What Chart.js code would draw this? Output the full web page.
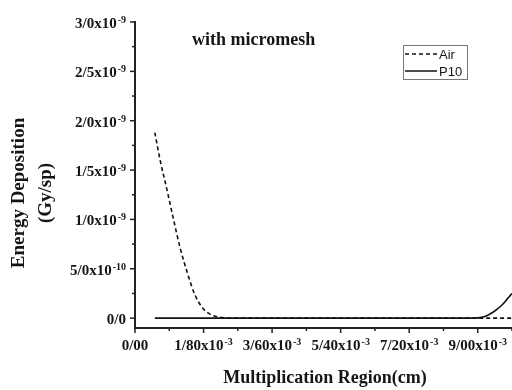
<!DOCTYPE html>
<html>
<head>
<meta charset="UTF-8">
<title>Energy Deposition - micromesh</title>
<script src="https://cdn.jsdelivr.net/npm/chart.js"></script>
<style>
  body { margin: 0; background: #fff; }
  #grafico { display: block; }
</style>
</head>
<body>
<canvas id="grafico" width="512" height="390"></canvas>
<script>
  // x in units of 1e-3 cm, y in units of 1e-9 Gy/sp
  const airX = [0.52, 0.66, 0.84, 1.0, 1.18, 1.39, 1.57, 1.78, 1.97, 2.2, 2.5, 3.5, 5.0, 7.0, 9.0, 10.0];
  const airY = [1.88, 1.60, 1.30, 1.02, 0.72, 0.44, 0.24, 0.10, 0.04, 0.01, 0, 0, 0, 0, 0, 0];
  const p10X = [0.52, 3.0, 6.0, 8.8, 9.13, 9.4, 9.63, 9.79, 9.9, 10.0];
  const p10Y = [0, 0, 0, 0, 0.01, 0.06, 0.13, 0.2, 0.25, 0.3];

  const xTicks = [0, 1.8, 3.6, 5.4, 7.2, 9.0];
  const xTickText = ['0/00', '1/80x10', '3/60x10', '5/40x10', '7/20x10', '9/00x10'];
  const xTickExp = ['', '-3', '-3', '-3', '-3', '-3'];
  const yTicks = [0, 0.5, 1.0, 1.5, 2.0, 2.5, 3.0];
  const yTickText = ['0/0', '5/0x10', '1/0x10', '1/5x10', '2/0x10', '2/5x10', '3/0x10'];
  const yTickExp = ['', '-10', '-9', '-9', '-9', '-9', '-9'];

  const serif = '"Liberation Serif", "Times New Roman", serif';
  const ink = '#151515';

  function textoConExp(ctx, base, exp, x, y, align) {
    ctx.font = 'bold 15px ' + serif;
    const wb = ctx.measureText(base).width;
    ctx.font = 'bold 10px ' + serif;
    const we = exp ? ctx.measureText(exp).width + 1 : 0;
    let x0 = x;
    if (align === 'right') x0 = x - wb - we;
    if (align === 'center') x0 = x - (wb + we) / 2;
    ctx.textAlign = 'left';
    ctx.textBaseline = 'alphabetic';
    ctx.font = 'bold 15px ' + serif;
    ctx.fillText(base, x0, y);
    if (exp) {
      ctx.font = 'bold 10px ' + serif;
      ctx.fillText(exp, x0 + wb + 1, y - 5);
    }
  }

  const ejes = {
    id: 'ejes',
    afterDraw(chart) {
      const ctx = chart.ctx;
      const xs = chart.scales.x, ys = chart.scales.y;
      const left = chart.chartArea.left, bottom = chart.chartArea.bottom;
      ctx.save();
      ctx.strokeStyle = '#222';
      ctx.fillStyle = ink;
      ctx.lineWidth = 1.5;

      // y ticks: major + minor in between
      yTicks.forEach((v, i) => {
        const py = ys.getPixelForValue(v);
        ctx.beginPath(); ctx.moveTo(left - 5, py); ctx.lineTo(left, py); ctx.stroke();
        if (i < yTicks.length - 1) {
          const pm = ys.getPixelForValue((v + yTicks[i + 1]) / 2);
          ctx.beginPath(); ctx.moveTo(left - 3, pm); ctx.lineTo(left, pm); ctx.stroke();
        }
        textoConExp(ctx, yTickText[i], yTickExp[i], left - 9, py + 6, 'right');
      });

      // x ticks
      xTicks.forEach((v, i) => {
        const px = xs.getPixelForValue(v);
        ctx.beginPath(); ctx.moveTo(px, bottom); ctx.lineTo(px, bottom + 5); ctx.stroke();
        const pm = xs.getPixelForValue(v + 0.9);
        if (pm <= chart.chartArea.right) {
          ctx.beginPath(); ctx.moveTo(pm, bottom); ctx.lineTo(pm, bottom + 3); ctx.stroke();
        }
        textoConExp(ctx, xTickText[i], xTickExp[i], px, 350, 'center');
      });

      // axis titles
      ctx.font = 'bold 18px ' + serif;
      ctx.textAlign = 'center';
      ctx.textBaseline = 'alphabetic';
      ctx.fillText('Multiplication Region(cm)', 325, 383);
      ctx.save();
      ctx.translate(24, 193);
      ctx.rotate(-Math.PI / 2);
      ctx.font = 'bold 19px ' + serif;
      ctx.fillText('Energy Deposition', 0, 0);
      ctx.fillText('(Gy/sp)', 0, 27);
      ctx.restore();

      // title inside the plot
      ctx.font = 'bold 18px ' + serif;
      ctx.textAlign = 'left';
      ctx.fillText('with micromesh', 192, 45);

      // legend box
      ctx.strokeStyle = '#777';
      ctx.lineWidth = 1;
      ctx.strokeRect(403.5, 45.5, 64, 34);
      ctx.font = '13px "Liberation Sans", Arial, sans-serif';
      ctx.textBaseline = 'middle';
      chart.data.datasets.forEach((ds, i) => {
        const ly = 54 + i * 17;
        ctx.strokeStyle = '#111';
        ctx.lineWidth = 1.5;
        ctx.setLineDash(ds.borderDash || []);
        ctx.beginPath(); ctx.moveTo(405, ly); ctx.lineTo(437, ly); ctx.stroke();
        ctx.setLineDash([]);
        ctx.fillText(ds.label, 439, ly + 1);
      });
      ctx.restore();
    }
  };

  new Chart(document.getElementById('grafico'), {
    type: 'line',
    data: {
      datasets: [
        {
          label: 'Air',
          data: airX.map((x, i) => ({ x, y: airY[i] })),
          borderColor: '#111',
          borderWidth: 1.6,
          borderDash: [4, 3],
          pointRadius: 0,
          cubicInterpolationMode: 'monotone'
        },
        {
          label: 'P10',
          data: p10X.map((x, i) => ({ x, y: p10Y[i] })),
          borderColor: '#111',
          borderWidth: 1.6,
          pointRadius: 0,
          cubicInterpolationMode: 'monotone'
        }
      ]
    },
    options: {
      responsive: false,
      animation: false,
      layout: { padding: { top: 22, right: 0, left: 0, bottom: 0 } },
      plugins: { legend: { display: false }, tooltip: { enabled: false } },
      scales: {
        x: {
          type: 'linear', min: 0, max: 9.9,
          grid: { display: false },
          border: { display: true, color: '#222', width: 2 },
          ticks: { display: false },
          afterFit(s) { s.height = 62; }
        },
        y: {
          min: -0.1, max: 3.0,
          grid: { display: false },
          border: { display: true, color: '#222', width: 2 },
          ticks: { display: false },
          afterFit(s) { s.width = 135; }
        }
      }
    },
    plugins: [ejes]
  });
</script>
</body>
</html>
